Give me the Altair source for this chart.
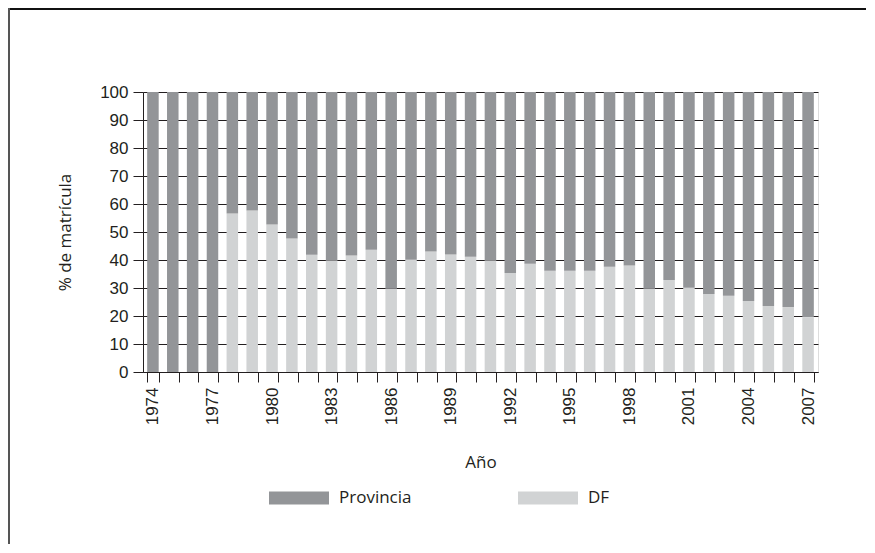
import altair as alt
import pandas as pd

years = list(range(1974, 2008))
df_share = [0, 0, 0, 0, 56.6, 57.7, 52.7, 47.7, 41.9, 39.8, 41.6, 43.7, 29.7, 40.1,
            43.0, 42.0, 41.2, 39.8, 35.4, 38.7, 36.2, 36.2, 36.2, 37.6, 38.0, 29.7,
            32.9, 30.1, 27.9, 27.2, 25.4, 23.6, 23.2, 19.6]
prov_share = [100, 100, 100, 100, 43.4, 42.3, 47.3, 52.3, 58.1, 60.2, 58.4, 56.3, 70.3,
              59.9, 57.0, 58.0, 58.8, 60.2, 64.6, 61.3, 63.8, 63.8, 63.8, 62.4, 62.0,
              70.3, 67.1, 69.9, 72.1, 72.8, 74.6, 76.4, 76.8, 80.4]
series = ["Provincia", "DF"]
colors = ["#939598", "#d1d3d4"]

rows = []
for y, d, p in zip(years, df_share, prov_share):
    rows.append({"Año": y, "serie": "DF", "valor": d, "ord": 0})
    rows.append({"Año": y, "serie": "Provincia", "valor": p, "ord": 1})
data = pd.DataFrame(rows)

W, H = 675, 280
PL, PT, PR, PB = 135, 84, 48, 172
INK = "#231f20"

bars = alt.Chart(data).mark_bar().encode(
    x=alt.X("Año:O", scale=alt.Scale(paddingInner=0.42),
            axis=alt.Axis(title="Año", labelAngle=270, tickBand="extent",
                          labelExpr="(datum.value - 1974) % 3 == 0 ? datum.label : ''",
                          tickSize=10, labelPadding=5, labelFont="Liberation Sans",
                          labelFontSize=17, labelColor=INK, tickColor=INK, domainColor=INK,
                          titleX=W / 2, titleY=90, titleBaseline="middle",
                          titleFont="Open Sans", titleFontSize=17, titleFontWeight="normal",
                          titleColor=INK, grid=False)),
    y=alt.Y("valor:Q", stack="zero",
            scale=alt.Scale(domain=[0, 100], nice=False),
            axis=alt.Axis(title="% de matrícula", values=list(range(0, 101, 10)),
                          tickSize=10, labelPadding=5, labelFont="Liberation Sans",
                          labelFontSize=17, labelColor=INK, tickColor=INK, domainColor=INK,
                          grid=True, gridColor=INK, gridWidth=1,
                          titleX=-78, titleY=H / 2, titleAngle=270, titleAlign="center",
                          titleBaseline="middle", titleFont="Open Sans", titleFontSize=17,
                          titleFontWeight="normal", titleColor=INK)),
    color=alt.Color("serie:N", scale=alt.Scale(domain=series, range=colors),
                    legend=alt.Legend(title=None, orient="none", legendX=126, legendY=376,
                                      direction="horizontal", columns=2,
                                      symbolType="M-1,-0.22H1V0.22H-1Z", symbolSize=3600,
                                      symbolStrokeWidth=0, symbolOpacity=1,
                                      labelFont="Open Sans", labelFontSize=17,
                                      labelColor=INK, labelOffset=10, columnPadding=106)),
    order=alt.Order("ord:Q"),
)

frame = pd.DataFrame({"k": [0]})
top_line = alt.Chart(frame).mark_rule(color="#111111", strokeWidth=2).encode(
    x=alt.value(-PL), x2=alt.value(W + PR), y=alt.value(-PT + 1))
left_line = alt.Chart(frame).mark_rule(color="#555555", strokeWidth=2).encode(
    x=alt.value(-PL + 1), y=alt.value(-PT), y2=alt.value(H + PB))

chart = alt.layer(bars, top_line, left_line).properties(
    width=W, height=H,
    autosize=alt.AutoSizeParams(type="none"),
    padding={"left": PL, "top": PT, "right": PR, "bottom": PB},
).configure_view(stroke=INK, strokeWidth=1).configure(background="white")

chart.save("out.html", embed_options={"renderer": "svg", "actions": False})
